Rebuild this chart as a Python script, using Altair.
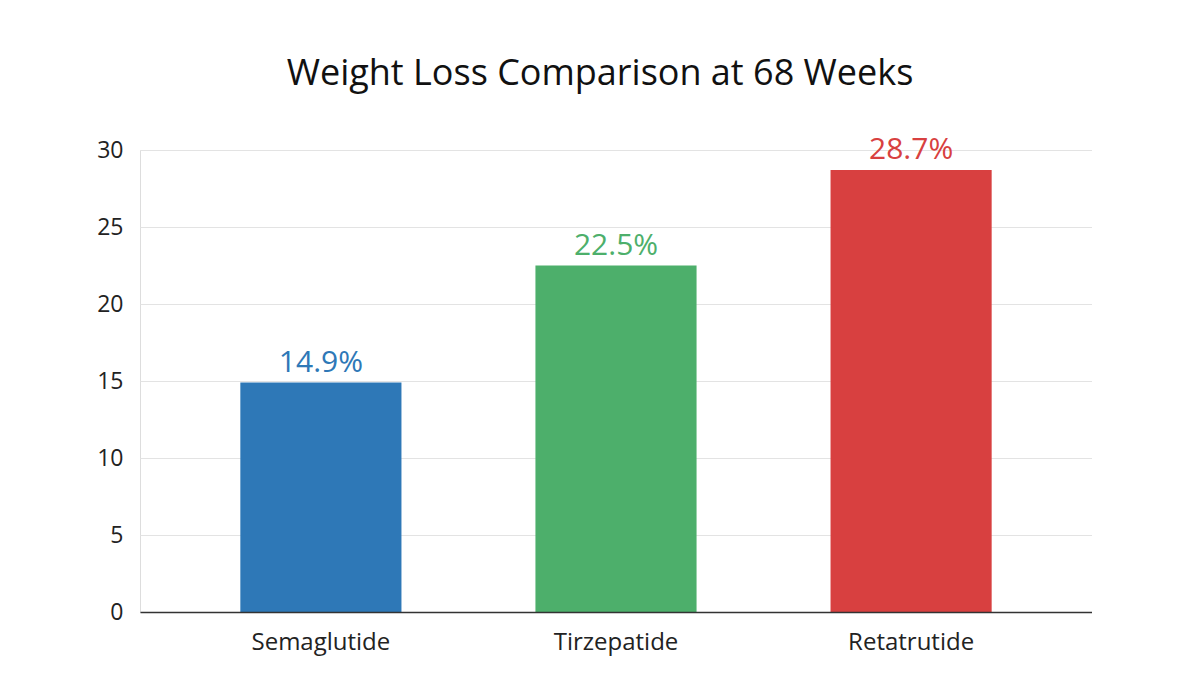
import altair as alt
import pandas as pd

drugs = ["Semaglutide", "Tirzepatide", "Retatrutide"]
loss = [14.9, 22.5, 28.7]
colors = ["#2E78B7", "#4DAF6B", "#D84040"]
labels = ["14.9%", "22.5%", "28.7%"]

df = pd.DataFrame({"drug": drugs, "loss": loss, "label": labels})

FONT = "Open Sans"

x = alt.X("drug:N", sort=drugs, title=None,
          scale=alt.Scale(paddingInner=0.454, paddingOuter=0.34),
          axis=alt.Axis(labelAngle=0, labelFontSize=24, labelColor="#222",
                        labelFont=FONT, labelPadding=18, ticks=False,
                        domainColor="#333", domainWidth=1.5, grid=False,
                        zindex=1))
color = alt.Color("drug:N", scale=alt.Scale(domain=drugs, range=colors), legend=None)

bars = alt.Chart(df).mark_bar().encode(
    x=x,
    y=alt.Y("loss:Q", title=None,
            scale=alt.Scale(domain=[0, 30]),
            axis=alt.Axis(values=[0, 5, 10, 15, 20, 25, 30], labelFontSize=23,
                          labelColor="#222", labelFont=FONT, labelPadding=17,
                          ticks=False, domain=False, gridColor="#e3e3e3",
                          gridWidth=1, zindex=0)),
    color=color,
)

text = alt.Chart(df).mark_text(baseline="bottom", dy=-5, fontSize=30, font=FONT).encode(
    x=alt.X("drug:N", sort=drugs),
    y="loss:Q",
    text="label:N",
    color=color,
)

chart = (bars + text).properties(
    width=952, height=462,
    padding={"left": 132, "top": 142, "right": 0, "bottom": 80},
    autosize="none",
    title=alt.TitleParams("Weight Loss Comparison at 68 Weeks", fontSize=36,
                          font=FONT, fontWeight="normal", color="#111",
                          anchor="middle", offset=42, dx=-16),
).configure_view(stroke=None).configure(background="white")

chart.save("out.html", embed_options={"renderer": "svg", "actions": False})
